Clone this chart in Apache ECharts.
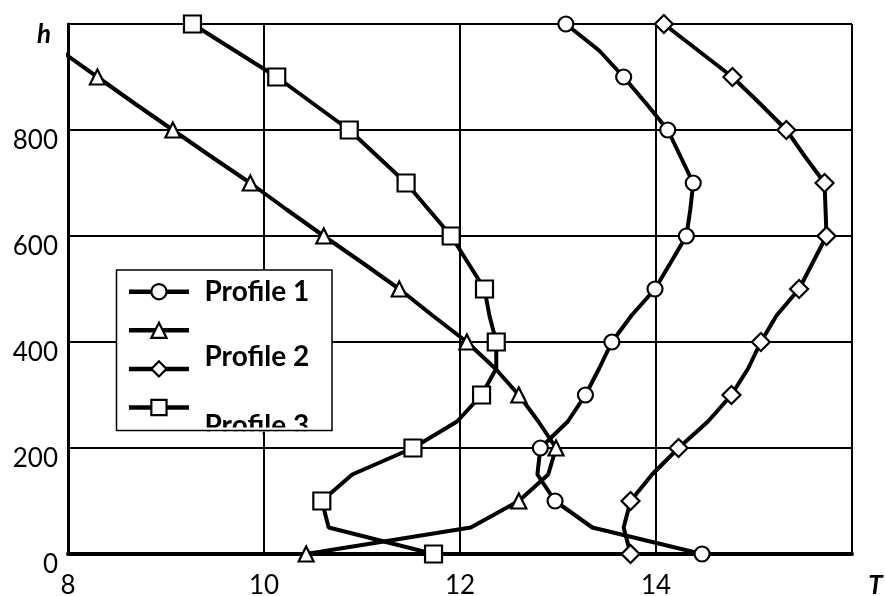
<!DOCTYPE html>
<html>
<head>
<meta charset="utf-8">
<title>Profiles</title>
<script src="https://cdn.jsdelivr.net/npm/echarts@6.0.0/dist/echarts.min.js"></script>
<style>
html, body { margin: 0; padding: 0; background: #fff; }
#main { width: 885px; height: 596px; }
</style>
</head>
<body>
<div id="main"></div>
<script>
// heights (h), one point every 50, markers only every 100
var heights = [0, 50, 100, 150, 200, 250, 300, 350, 400, 450, 500, 550, 600, 650, 700, 750, 800, 850, 900, 950, 1000];

// temperature T for each height
var profile1 = [14.47, 13.35, 12.97, 12.79, 12.82, 13.10, 13.28, 13.42, 13.55, 13.75, 13.99, 14.15, 14.31, 14.35, 14.38, 14.25, 14.12, 13.90, 13.67, 13.42, 13.08];
var profile2 = [10.43, 12.11, 12.60, 12.90, 12.98, 12.80, 12.60, 12.36, 12.07, 11.72, 11.38, 11.00, 10.61, 10.23, 9.86, 9.46, 9.07, 8.68, 8.30, 7.92, 7.53];
var profile3 = [13.74, 13.67, 13.74, 13.96, 14.23, 14.53, 14.77, 14.94, 15.07, 15.23, 15.46, 15.60, 15.74, 15.73, 15.72, 15.52, 15.33, 15.06, 14.78, 14.43, 14.08];
var profile4 = [11.73, 10.66, 10.59, 10.90, 11.52, 11.97, 12.22, 12.37, 12.37, 12.30, 12.25, 12.08, 11.91, 11.68, 11.45, 11.16, 10.87, 10.50, 10.13, 9.70, 9.27];

var legendTexts = ['Profile 1', 'Profile 2', 'Profile 3'];

var FONT = 'Lato';

function toPoints(temps) {
	return heights.map(function (h, i) {
		if (h % 100 === 0) return [temps[i], h];
		return { value: [temps[i], h], symbol: 'none' };
	});
}

function makeSeries(name, temps, symbol, size) {
	return {
		name: name,
		type: 'line',
		data: toPoints(temps),
		symbol: symbol,
		symbolSize: size,
		showAllSymbol: true,
		lineStyle: { color: '#000', width: 4 },
		itemStyle: { color: '#fff', borderColor: '#000', borderWidth: 2.2 },
		emphasis: { disabled: true }
	};
}

var myChart = echarts.init(document.getElementById('main'));
var option = {
	animation: false,
	backgroundColor: '#fff',
	grid: { left: 68, right: 33, top: 24, bottom: 42, outerBoundsMode: 'none' },
	legend: {
		orient: 'vertical',
		left: 126.7,
		top: 282.2,
		padding: 0,
		itemWidth: 60,
		itemHeight: 19,
		itemGap: 20.4,
		selectedMode: false,
		lineStyle: { color: '#000', width: 4.5 },
		itemStyle: { color: '#fff', borderColor: '#000', borderWidth: 2.2 },
		formatter: function () { return ''; },
		data: ['Profile 1', 'Profile 2', 'Profile 3', 'Profile 4']
	},
	xAxis: {
		type: 'value',
		min: 8,
		max: 16,
		interval: 2,
		axisLine: { show: true, lineStyle: { color: '#000', width: 4 } },
		axisTick: { show: false },
		splitLine: { show: true, lineStyle: { color: '#000', width: 2 } },
		axisLabel: {
			color: '#000',
			fontFamily: FONT,
			fontSize: 26,
			margin: 19,
			showMinLabel: true,
			showMaxLabel: true,
			formatter: function (v) { return v === 16 ? '{t|T}' : String(v); },
			rich: {
				t: { fontFamily: FONT, fontSize: 26, fontWeight: 'bold', fontStyle: 'italic', color: '#000', padding: [0, 0, 0, 47] }
			}
		}
	},
	yAxis: {
		type: 'value',
		min: 0,
		max: 1000,
		interval: 200,
		axisLine: { show: true, lineStyle: { color: '#000', width: 3 } },
		axisTick: { show: false },
		splitLine: { show: true, lineStyle: { color: '#000', width: 2 } },
		axisLabel: {
			color: '#000',
			fontFamily: FONT,
			fontSize: 26,
			margin: 10,
			padding: [21, 0, 0, 0],
			showMinLabel: true,
			showMaxLabel: true,
			formatter: function (v) { return v === 1000 ? '{h|h}' : String(v); },
			rich: {
				h: { fontFamily: FONT, fontSize: 26, fontWeight: 'bold', fontStyle: 'italic', color: '#000', padding: [0, 7, 0, 0] }
			}
		}
	},
	series: [
		makeSeries('Profile 1', profile1, 'circle', 15),
		makeSeries('Profile 2', profile2, 'triangle', 15),
		makeSeries('Profile 3', profile3, 'diamond', 18),
		makeSeries('Profile 4', profile4, 'rect', 17)
	]
};
myChart.setOption(option);

// legend box, its texts, and the clipped last label
var gx = myChart.convertToPixel({ xAxisIndex: 0 }, 10);
var box = { x: 116.5, y: 270, width: 215.5, height: 160.5 };
var textFont = 'bold 28px ' + FONT;
myChart.setOption({
	graphic: [
		{ type: 'rect', z: 3, shape: box, style: { fill: '#fff', stroke: null } },
		{ type: 'text', z: 5, style: { text: legendTexts[0], x: 204.5, y: 291.5, font: textFont, fill: '#000', textVerticalAlign: 'middle' } },
		{ type: 'text', z: 5, style: { text: legendTexts[1], x: 204.5, y: 356.7, font: textFont, fill: '#000', textVerticalAlign: 'middle' } },
		{ type: 'text', z: 5, style: { text: legendTexts[2], x: 204.5, y: 426.4, font: textFont, fill: '#000', textVerticalAlign: 'middle' } },
		{ type: 'rect', z: 6, shape: { x: box.x + 1, y: 427.5, width: box.width - 2, height: 4 }, style: { fill: '#fff', stroke: null } },
		{ type: 'rect', z: 6, shape: { x: box.x + 1, y: 431.5, width: gx - 1.6 - box.x - 1, height: 13 }, style: { fill: '#fff', stroke: null } },
		{ type: 'rect', z: 6, shape: { x: gx + 1.6, y: 431.5, width: box.x + box.width - 1 - gx - 1.6, height: 13 }, style: { fill: '#fff', stroke: null } },
		{ type: 'rect', z: 7, shape: box, style: { fill: null, stroke: '#000', lineWidth: 1.5 } }
	]
});
</script>
</body>
</html>
